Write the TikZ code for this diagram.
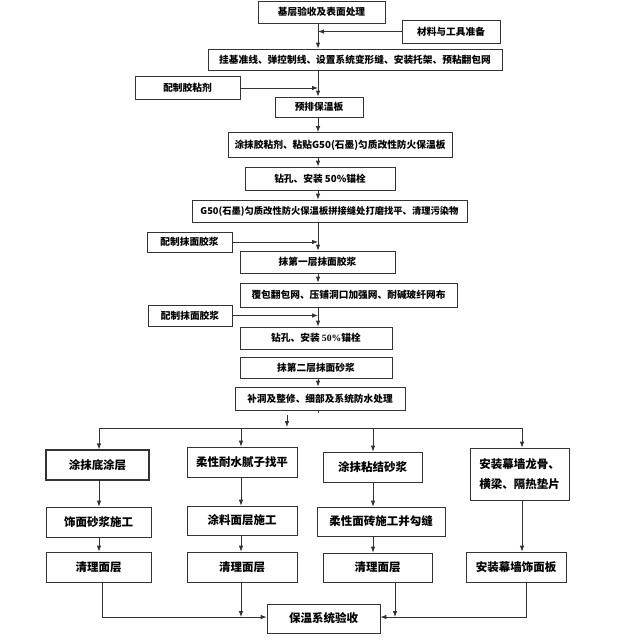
\documentclass[tikz,border=0pt]{standalone}
\usepackage{fontspec}
\setmainfont{Noto Sans CJK SC}
\newfontfamily\latinserif{Liberation Serif}
\usetikzlibrary{arrows.meta}
\begin{document}
\begin{tikzpicture}[x=1pt,y=-1pt]
\tikzset{
 box/.style={draw=black!80, line width=0.8pt, rectangle, inner sep=0pt, align=center, font=\fontsize{9.7}{12}\selectfont\bfseries},
 bbox/.style={box, font=\fontsize{11.5}{20}\selectfont\bfseries},
 arr/.style={-{Latex[length=6pt,width=4.6pt]}, line width=0.8pt, draw=black!80},
 ln/.style={line width=0.8pt, draw=black!80}
}
\useasboundingbox (0,0) rectangle (633,641);
% main column
\node[box, minimum width=127pt, minimum height=22pt] (n1) at (321.5,12) {基层验收及表面处理};
\node[box, minimum width=98pt, minimum height=23pt] (m1) at (451,31.5) {材料与工具准备};
\node[box, minimum width=294pt, minimum height=21pt] (n2) at (355,59.5) {挂基准线、弹控制线、设置系统变形缝、安装托架、预粘翻包网};
\node[box, minimum width=105pt, minimum height=23pt] (m2) at (187.5,88) {配制胶粘剂};
\node[box, minimum width=88pt, minimum height=20pt] (n3) at (319,107) {预排保温板};
\node[box, minimum width=224pt, minimum height=25pt] (n4) at (340,145) {涂抹胶粘剂、粘贴G50(石墨)匀质改性防火保温板};
\node[box, minimum width=150pt, minimum height=23pt] (n5) at (320,178.5) {钻孔、安装 50\%锚栓};
\node[box, minimum width=275pt, minimum height=22pt, font=\fontsize{9.3}{12}\selectfont\bfseries] (n6) at (329.5,211) {G50(石墨)匀质改性防火保温板拼接缝处打磨找平、清理污染物};
\node[box, minimum width=85pt, minimum height=20pt] (m3) at (189.5,242) {配制抹面胶浆};
\node[box, minimum width=155pt, minimum height=22pt] (n7) at (317.5,262) {抹第一层抹面胶浆};
\node[box, minimum width=217pt, minimum height=24pt] (n8) at (348.5,295) {覆包翻包网、压铺洞口加强网、耐碱玻纤网布};
\node[box, minimum width=84pt, minimum height=21pt] (m4) at (190,315.5) {配制抹面胶浆};
\node[box, minimum width=152pt, minimum height=22pt] (n9) at (316,338) {钻孔、安装 {\latinserif 50\%}锚栓};
\node[box, minimum width=152pt, minimum height=21pt] (n10) at (316,367.5) {抹第二层抹面砂浆};
\node[box, minimum width=170pt, minimum height=23pt] (n11) at (320,398.5) {补洞及整修、细部及系统防水处理};
% bottom columns
\node[bbox, line width=1.3pt, minimum width=103pt, minimum height=30pt] (c1a) at (97.5,465) {涂抹底涂层};
\node[bbox, minimum width=105pt, minimum height=30pt] (c1b) at (98.5,522) {饰面砂浆施工};
\node[bbox, minimum width=105pt, minimum height=30pt] (c1c) at (98.5,567) {清理面层};
\node[bbox, minimum width=110pt, minimum height=30pt] (c2a) at (242,462) {柔性耐水腻子找平};
\node[bbox, minimum width=110pt, minimum height=29pt] (c2b) at (242,520.5) {涂料面层施工};
\node[bbox, minimum width=110pt, minimum height=30pt] (c2c) at (242,567) {清理面层};
\node[bbox, minimum width=99pt, minimum height=30pt] (c3a) at (372.5,467) {涂抹粘结砂浆};
\node[bbox, minimum width=128pt, minimum height=29pt] (c3b) at (381,521.5) {柔性面砖施工并勾缝};
\node[bbox, minimum width=109pt, minimum height=29pt] (c3c) at (377.5,567.5) {清理面层};
\node[bbox, minimum width=99pt, minimum height=52pt] (c4a) at (519.5,474) {安装幕墙龙骨、\\横梁、隔热垫片};
\node[bbox, minimum width=100pt, minimum height=30pt] (c4b) at (516,567) {安装幕墙饰面板};
\node[bbox, minimum width=113pt, minimum height=29pt] (fin) at (323.5,618.5) {保温系统验收};
% main connectors
\coordinate (mx) at (318,0);
\draw[arr] (n1.south -| mx) -- (n2.north -| mx);
\draw[arr] (n2.south -| mx) -- (n3.north -| mx);
\draw[arr] (n3.south -| mx) -- (n4.north -| mx);
\draw[arr] (n4.south -| mx) -- (n5.north -| mx);
\draw[arr] (n5.south -| mx) -- (n6.north -| mx);
\draw[arr] (n6.south -| mx) -- (n7.north -| mx);
\draw[arr] (n7.south -| mx) -- (n8.north -| mx);
\draw[arr] (n8.south -| mx) -- (n9.north -| mx);
\draw[arr] (n10.south -| mx) -- (n11.north -| mx);
\draw[arr] (m1.west) -- (m1.west -| mx);
\draw[arr] (m2.east) -- (m2.east -| mx);
\draw[arr] (m3.east) -- (m3.east -| mx);
\draw[arr] (m4.east) -- (m4.east -| mx);
\draw[ln] (n11.south -| mx) -- ++(0,3);
% branching
\coordinate (k1) at (99,428);
\coordinate (k2) at (241,428);
\coordinate (k3) at (373,428);
\coordinate (k4) at (522,428);
\coordinate (s1) at (287,415);
\coordinate (s2) at (287,427);
\draw[arr] (s1) -- (s2);
\draw[ln] (k1) -- (k4);
\draw[arr] (k1) -- (c1a.north -| k1);
\draw[arr] (k2) -- (c2a.north -| k2);
\draw[arr] (k3) -- (c3a.north -| k3);
\draw[arr] (k4) -- (c4a.north -| k4);
% columns
\draw[arr] (c1a.south -| k1) -- (c1b.north -| k1);
\draw[arr] (c1b.south -| k1) -- (c1c.north -| k1);
\draw[arr] (c2a.south -| k2) -- (c2b.north -| k2);
\draw[arr] (c2b.south -| k2) -- (c2c.north -| k2);
\draw[arr] (c3a.south -| k3) -- (c3b.north -| k3);
\draw[arr] (c3b.south -| k3) -- (c3c.north -| k3);
\draw[arr] (c4a.south -| k4) -- (c4b.north -| k4);
% to final
\coordinate (b1) at (102,617);
\coordinate (b3) at (395,617);
\coordinate (b4) at (526,617);
\draw[arr] (c1c.south -| b1) -- (b1) -- (fin.west |- b1);
\draw[arr] (c2c.south -| k2) -- (k2 |- b1);
\draw[arr] (c3c.south -| b3) -- (b3);
\draw[arr] (c4b.south -| b4) -- (b4) -- (fin.east |- b4);
\end{tikzpicture}
\end{document}
